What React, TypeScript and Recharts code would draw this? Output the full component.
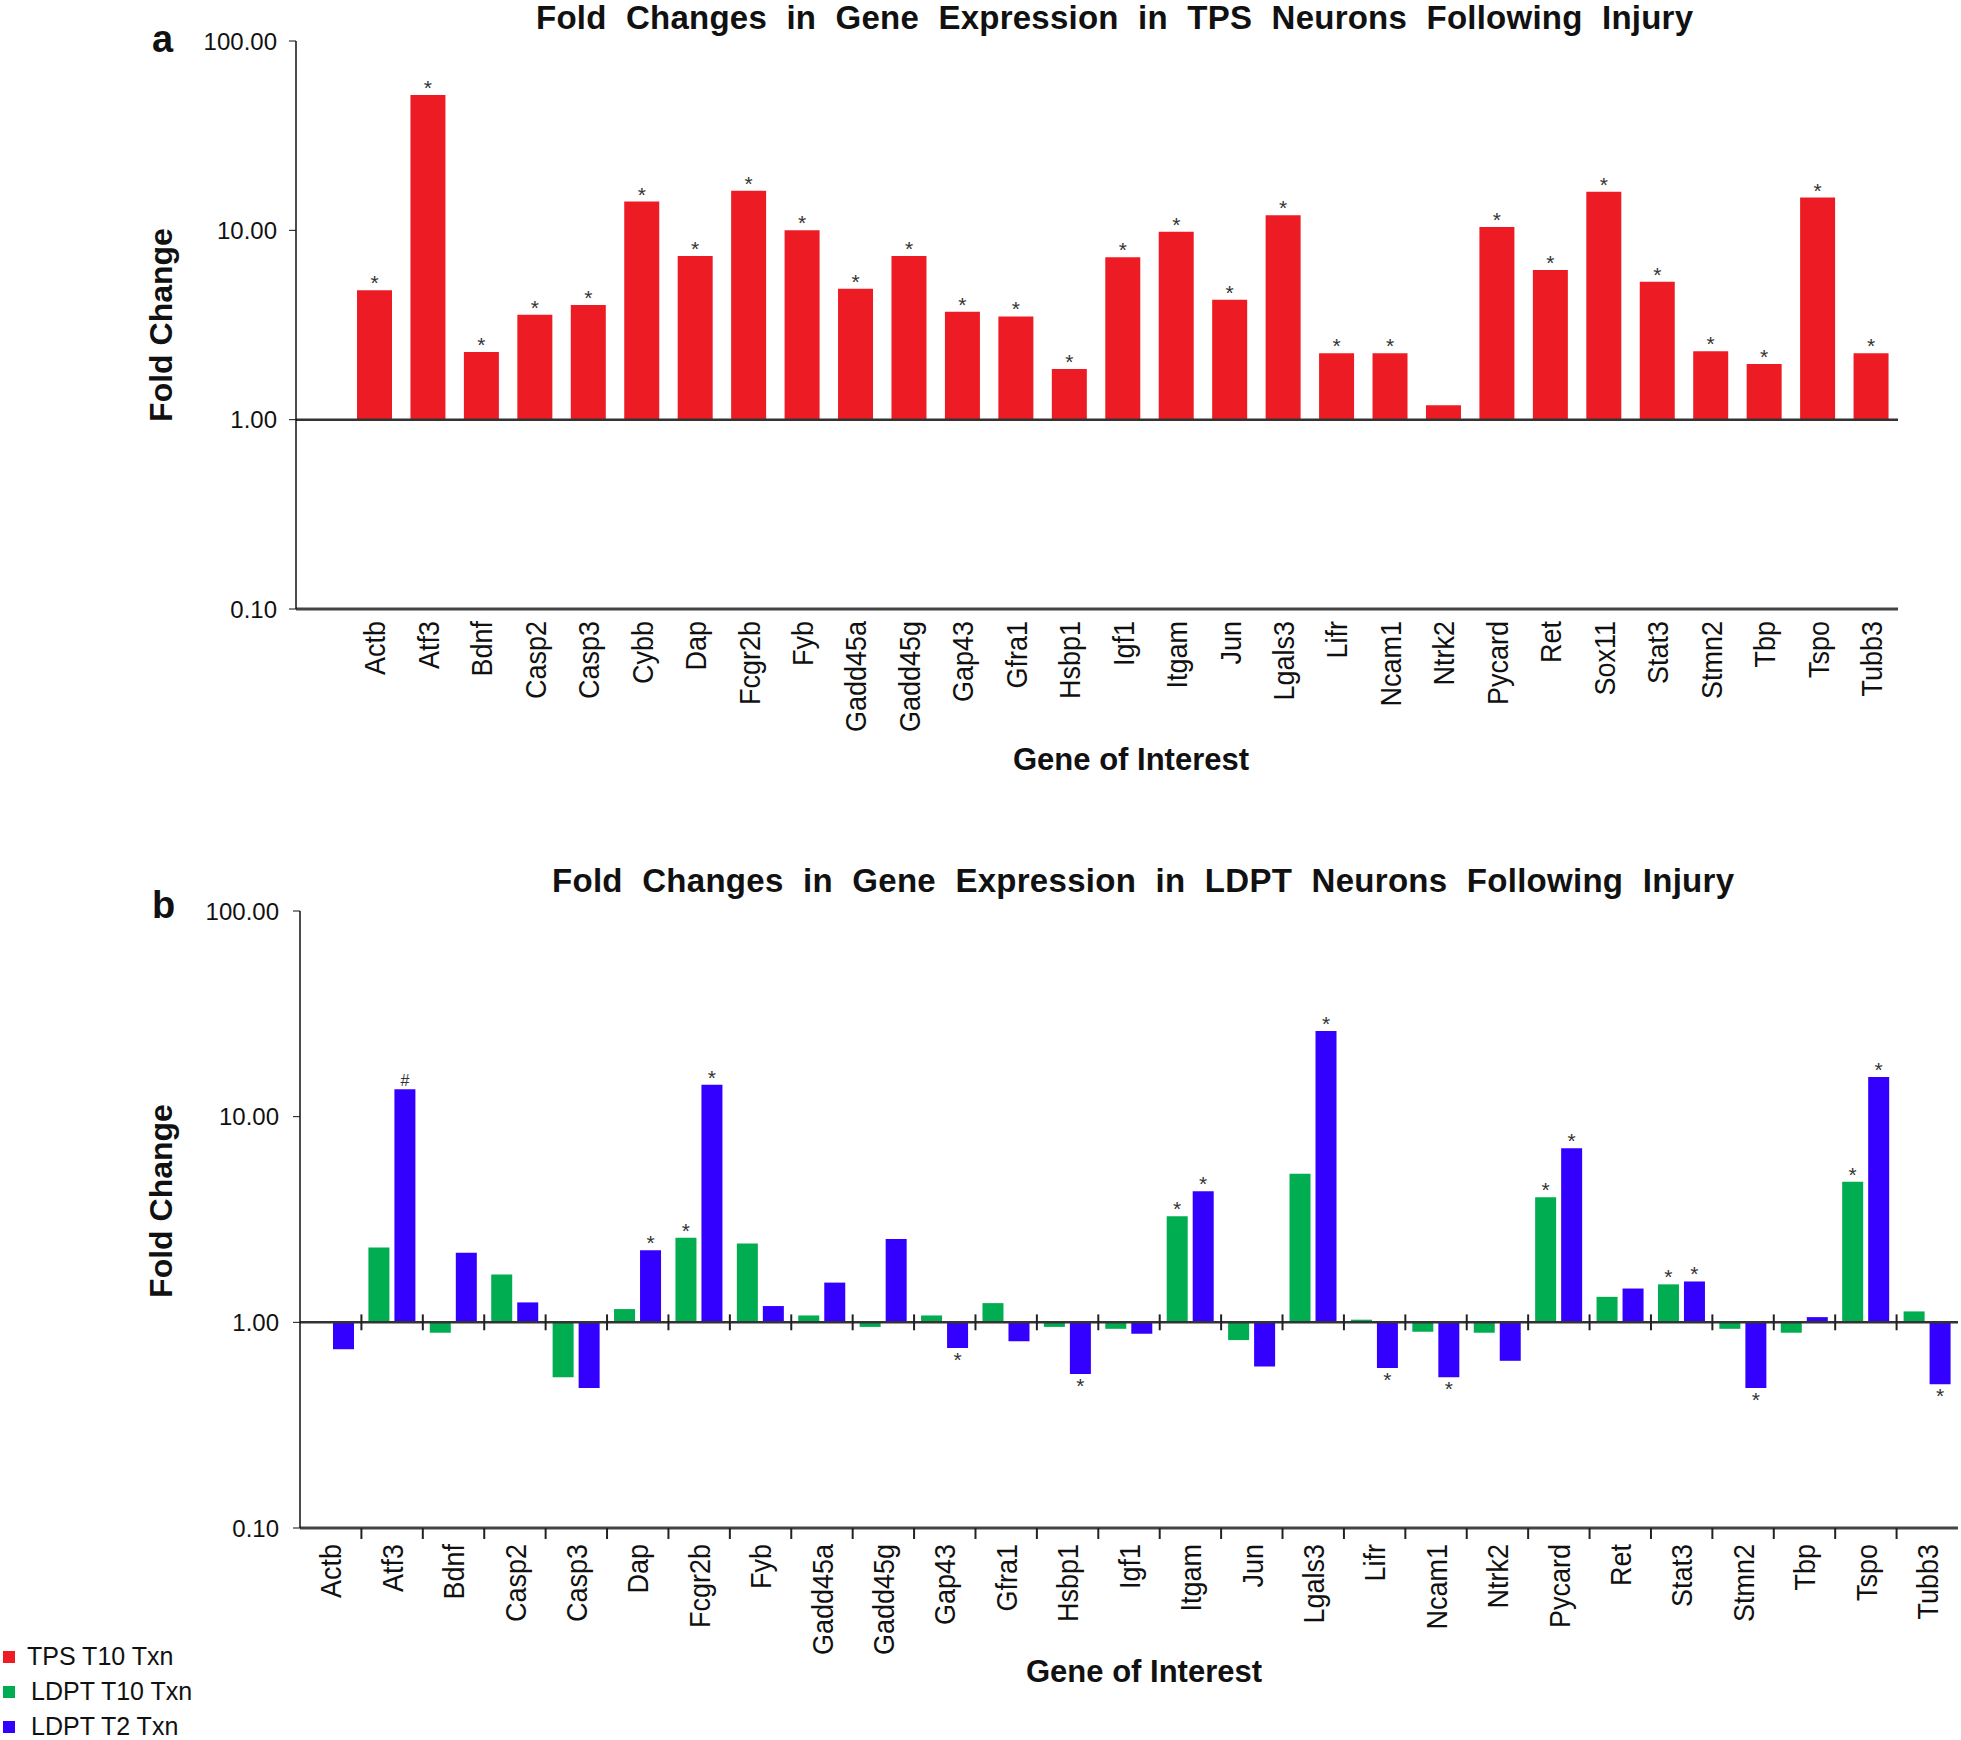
import React from 'react'
import { BarChart, Bar, XAxis, YAxis, ReferenceLine, LabelList } from 'recharts'

// panel a: TPS neurons
const GENES_A = [
  'Actb', 'Atf3', 'Bdnf', 'Casp2', 'Casp3', 'Cybb', 'Dap', 'Fcgr2b', 'Fyb', 'Gadd45a',
  'Gadd45g', 'Gap43', 'Gfra1', 'Hsbp1', 'Igf1', 'Itgam', 'Jun', 'Lgals3', 'Lifr', 'Ncam1',
  'Ntrk2', 'Pycard', 'Ret', 'Sox11', 'Stat3', 'Stmn2', 'Tbp', 'Tspo', 'Tubb3',
]
const TPS_T10 = [
  4.82, 51.8, 2.28, 3.58, 4.03, 14.2, 7.32, 16.2, 10.0, 4.91,
  7.32, 3.72, 3.51, 1.85, 7.21, 9.84, 4.3, 12.0, 2.24, 2.24,
  1.19, 10.4, 6.18, 16.0, 5.35, 2.3, 1.97, 14.9, 2.24,
]
const TPS_T10_SIG = [
  '*', '*', '*', '*', '*', '*', '*', '*', '*', '*',
  '*', '*', '*', '*', '*', '*', '*', '*', '*', '*',
  '', '*', '*', '*', '*', '*', '*', '*', '*',
]

// panel b: LDPT neurons
const GENES_B = [
  'Actb', 'Atf3', 'Bdnf', 'Casp2', 'Casp3', 'Dap', 'Fcgr2b', 'Fyb', 'Gadd45a', 'Gadd45g',
  'Gap43', 'Gfra1', 'Hsbp1', 'Igf1', 'Itgam', 'Jun', 'Lgals3', 'Lifr', 'Ncam1', 'Ntrk2',
  'Pycard', 'Ret', 'Stat3', 'Stmn2', 'Tbp', 'Tspo', 'Tubb3',
]
const LDPT_T10 = [
  1.01, 2.31, 0.89, 1.71, 0.54, 1.16, 2.58, 2.42, 1.08, 0.95,
  1.08, 1.24, 0.95, 0.93, 3.28, 0.82, 5.28, 1.03, 0.9, 0.89,
  4.06, 1.33, 1.53, 0.93, 0.89, 4.82, 1.13,
]
const LDPT_T10_SIG = [
  '', '', '', '', '', '', '*', '', '', '',
  '', '', '', '', '*', '', '', '', '', '',
  '*', '', '*', '', '', '*', '',
]
const LDPT_T2 = [
  0.74, 13.6, 2.18, 1.25, 0.48, 2.24, 14.3, 1.2, 1.56, 2.54,
  0.75, 0.81, 0.56, 0.88, 4.34, 0.61, 26.1, 0.6, 0.54, 0.65,
  7.03, 1.46, 1.58, 0.48, 1.06, 15.6, 0.5,
]
const LDPT_T2_SIG = [
  '', '#', '', '', '', '*', '*', '', '', '',
  '*', '', '*', '', '*', '', '*', '*', '*', '',
  '*', '', '*', '*', '', '*', '*',
]

const LOG_TICKS = [0.1, 1, 10, 100]

const SERIES = [
  { name: 'TPS T10 Txn', color: '#ED1C24' },
  { name: 'LDPT T10 Txn', color: '#00AD50' },
  { name: 'LDPT T2 Txn', color: '#3300FF' },
]

const FONT = "Arial, 'Liberation Sans', sans-serif"

// bars grow from 1.0 (up or down) on the log axis
const span = (v: number) => [Math.min(1, v), Math.max(1, v)]

function markLabel(values: number[], marks: string[]) {
  return (props: any) => {
    const vb = props.viewBox ?? props
    const x = Number(props.x ?? vb.x)
    const y = Number(props.y ?? vb.y)
    const width = Number(props.width ?? vb.width)
    const height = Number(props.height ?? vb.height)
    const index = props.index
    const m = marks[index]
    if (!m) return null
    const cx = x + width / 2
    const down = values[index] < 1
    const top = Math.min(y, y + height)
    const bottom = Math.max(y, y + height)
    const ty = down ? bottom + 19 : top - (m === '#' ? 3 : 0)
    return (
      <text key={`m${index}`} x={cx} y={ty} textAnchor="middle" fontSize={m === '#' ? 16 : 21} fill="#333">
        {m}
      </text>
    )
  }
}

function GeneTick(props: any) {
  const { x, y, payload, index, boundary } = props
  const off = payload?.offset ?? 30.7
  return (
    <g>
      {boundary && index > 0 && (
        <line x1={x - off} x2={x - off} y1={y - 16} y2={y - 5} stroke="#222" strokeWidth={2} />
      )}
      <text
        transform={`translate(${x},${y}) rotate(-90) scale(1,1.1)`}
        textAnchor="end"
        dy="0.36em"
        fontSize={27}
        fill="#111"
        fontFamily={FONT}
      >
        {payload.value}
      </text>
    </g>
  )
}

const yTick = { fill: '#111', fontSize: 24, fontFamily: FONT }

export default function App() {
  const dataA = GENES_A.map((gene, i) => ({ gene, tps: span(TPS_T10[i]) }))
  const dataB = GENES_B.map((gene, i) => ({ gene, t10: span(LDPT_T10[i]), t2: span(LDPT_T2[i]) }))

  return (
    <div style={{ position: 'absolute', left: 0, top: 0, width: 1961, height: 1740, background: '#fff', fontFamily: FONT }}>
      {/* panel a */}
      <div style={{ position: 'absolute', left: 0, top: 0 }}>
        <BarChart width={1961} height={800} data={dataA} margin={{ top: 41, right: 63, bottom: 0, left: 0 }} barCategoryGap={9}>
          <XAxis
            dataKey="gene"
            interval={0}
            height={191}
            padding={{ left: 52, right: 0 }}
            tickSize={0}
            tickMargin={12}
            tickLine={false}
            axisLine={{ stroke: '#444', strokeWidth: 3 }}
            tick={<GeneTick />}
          />
          <YAxis
            width={296}
            scale="log"
            type="number"
            domain={[0.1, 100]}
            allowDataOverflow
            ticks={LOG_TICKS}
            tickFormatter={(v: number) => v.toFixed(2)}
            tick={yTick}
            tickSize={7}
            tickMargin={12}
            tickLine={{ stroke: '#111' }}
            axisLine={{ stroke: '#111', strokeWidth: 1.5 }}
          />
          <Bar dataKey="tps" fill={SERIES[0].color} isAnimationActive={false}>
            <LabelList dataKey="tps" content={markLabel(TPS_T10, TPS_T10_SIG)} />
          </Bar>
          <ReferenceLine y={1} stroke="#333" strokeWidth={2.5} />
        </BarChart>
      </div>

      {/* panel b */}
      <div style={{ position: 'absolute', left: 0, top: 850 }}>
        <BarChart width={1961} height={890} data={dataB} margin={{ top: 61, right: 3, bottom: 0, left: 0 }} barCategoryGap={7} barGap={5}>
          <XAxis
            dataKey="gene"
            interval={0}
            height={212}
            tickSize={0}
            tickMargin={16}
            tickLine={false}
            axisLine={{ stroke: '#444', strokeWidth: 3 }}
            tick={<GeneTick boundary />}
          />
          <YAxis
            width={300}
            scale="log"
            type="number"
            domain={[0.1, 100]}
            allowDataOverflow
            ticks={LOG_TICKS}
            tickFormatter={(v: number) => v.toFixed(2)}
            tick={yTick}
            tickSize={7}
            tickMargin={14}
            tickLine={{ stroke: '#111' }}
            axisLine={{ stroke: '#111', strokeWidth: 1.5 }}
          />
          <Bar dataKey="t10" fill={SERIES[1].color} isAnimationActive={false}>
            <LabelList dataKey="t10" content={markLabel(LDPT_T10, LDPT_T10_SIG)} />
          </Bar>
          <Bar dataKey="t2" fill={SERIES[2].color} isAnimationActive={false}>
            <LabelList dataKey="t2" content={markLabel(LDPT_T2, LDPT_T2_SIG)} />
          </Bar>
          <ReferenceLine y={1} stroke="#333" strokeWidth={2.5} />
          {GENES_B.slice(1).map((g) => (
            <ReferenceLine
              key={g}
              segment={[{ x: g, y: 0.915 }, { x: g, y: 1.093 }]}
              position="start"
              stroke="#222"
              strokeWidth={2}
            />
          ))}
        </BarChart>
      </div>

      {/* titles, panel letters, axis titles and shared legend */}
      <svg width={1961} height={1740} style={{ position: 'absolute', left: 0, top: 0, pointerEvents: 'none' }} fontFamily={FONT}>
        <text x={536} y={29} fontSize={33} fontWeight="bold" wordSpacing={10} textLength={1157} lengthAdjust="spacing" fill="#111">
          Fold Changes in Gene Expression in TPS Neurons Following Injury
        </text>
        <text x={552} y={892} fontSize={33} fontWeight="bold" wordSpacing={10} textLength={1182} lengthAdjust="spacing" fill="#111">
          Fold Changes in Gene Expression in LDPT Neurons Following Injury
        </text>
        <text x={152} y={52} fontSize={38} fontWeight="bold" fill="#111">a</text>
        <text x={152} y={918} fontSize={38} fontWeight="bold" fill="#111">b</text>

        <text transform="translate(172,325) rotate(-90)" textAnchor="middle" fontSize={32} fontWeight="bold" fill="#111">Fold Change</text>
        <text transform="translate(172,1201) rotate(-90)" textAnchor="middle" fontSize={32} fontWeight="bold" fill="#111">Fold Change</text>
        <text x={1131} y={770} textAnchor="middle" fontSize={31} fontWeight="bold" fill="#111">Gene of Interest</text>
        <text x={1144} y={1682} textAnchor="middle" fontSize={31} fontWeight="bold" fill="#111">Gene of Interest</text>

        {SERIES.map((s, i) => (
          <g key={s.name}>
            <rect x={3} y={1651 + i * 35} width={12} height={12} fill={s.color} />
            <text x={i === 0 ? 27 : 31} y={1665 + i * 35} fontSize={25} fill="#111">{s.name}</text>
          </g>
        ))}
      </svg>
    </div>
  )
}
